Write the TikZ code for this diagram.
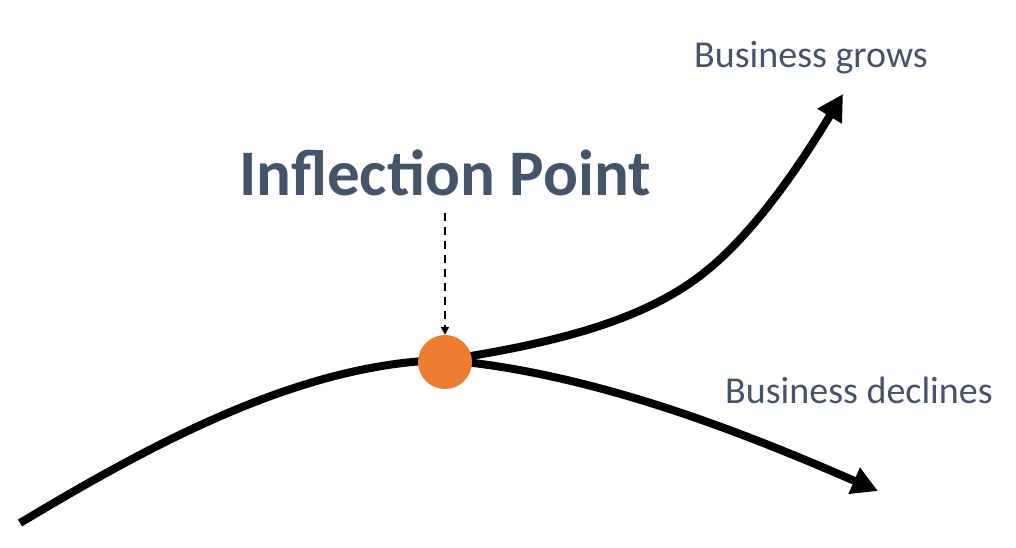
\documentclass[tikz,border=0pt]{standalone}
\usepackage{fontspec}
\setmainfont{Carlito}
\usetikzlibrary{arrows.meta}
\definecolor{txtblue}{HTML}{44546A}
\definecolor{dotorange}{HTML}{ED7D31}
\begin{document}
\begin{tikzpicture}[x=1pt,y=-1pt,
  curve/.style={line width=8pt, black},
  bigtip/.style={-{Triangle[length=26pt,width=27pt]}},
  label/.style={text=txtblue, inner sep=0pt, anchor=base west, font=\fontsize{38}{40}\selectfont},
  title/.style={text=txtblue, inner sep=0pt, anchor=base west, font=\bfseries\fontsize{65}{67}\selectfont},
  pointer/.style={line width=2pt, dash pattern=on 8pt off 6pt, -{Triangle[length=8pt,width=8pt]}}]
\useasboundingbox (0,0) rectangle (1016,547);
% coordinates
\coordinate (start) at (20,523);
\coordinate (split) at (445,360);
\coordinate (grow) at (843,94);
\coordinate (decline) at (878,491);
\coordinate (dstart) at (445,213);
% curves
\draw[curve] (start) .. controls (150,445) and (300,363) .. (split);
\draw[curve, bigtip] (split) .. controls (580,340) and (655,312) .. (705,272)
   .. controls (755,232) and (800,165) .. (grow);
\draw[curve, bigtip] (split) .. controls (600,373) and (760,440) .. (decline);
% dot
\node[circle, fill=dotorange, minimum size=54pt, inner sep=0pt] (ip) at (445,362) {};
% texts
\node[title] (t) at (239,195) {Inflection Point};
\node[label] (g) at (694,67) {Business grows};
\node[label] (d) at (725,403) {Business declines};
% pointer
\draw[pointer] (dstart) -- (ip.north);
\end{tikzpicture}
\end{document}
